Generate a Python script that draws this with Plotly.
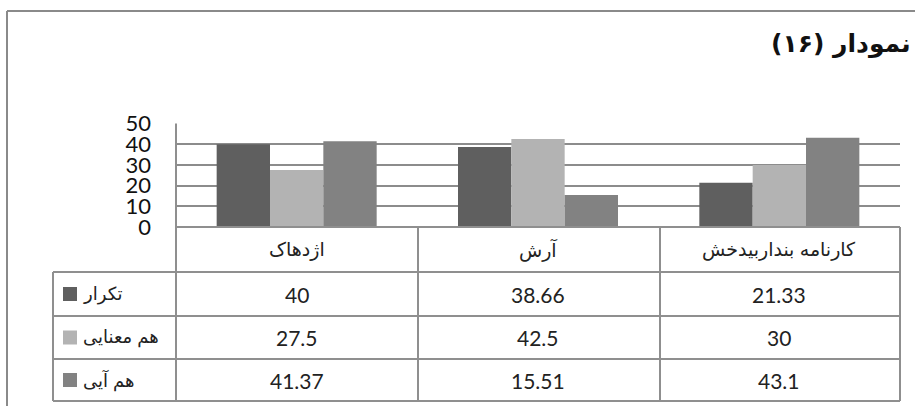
import plotly.graph_objects as go

# ---- data ----
categories = ["اژدهاک", "آرش", "کارنامه بنداربیدخش"]
series_names = ["تکرار", "هم معنایی", "هم آیی"]
takrar = [40, 38.66, 21.33]
ham_manayi = [27.5, 42.5, 30]
ham_ayi = [41.37, 15.51, 43.1]
y_ticks = [0, 10, 20, 30, 40, 50]
title_text = "نمودار (۱۶)"

series_values = [takrar, ham_manayi, ham_ayi]
colors = ["#5f5f5f", "#b3b3b3", "#828282"]

W, H = 915, 406
def px(x):
    return x / W
def py(y):
    return 1 - y / H

PLOT_L, PLOT_R = 176, 900
PLOT_T, PLOT_B = 123.5, 227
ROW_Y = [227, 272, 316, 359, 401]
TABLE_L = 53
COL_X = [176, 418, 660, 900]
LINE = "#8f8f8f"
FA = "Liberation Sans, DejaVu Sans, sans-serif"
NUM = "Lato, Open Sans, sans-serif"

fig = go.Figure()
for name, vals, c in zip(series_names, series_values, colors):
    fig.add_trace(go.Bar(x=categories, y=vals, name=name, marker=dict(color=c, line=dict(width=0)), hoverinfo="skip"))

shapes = []
# outer chart border (left + top)
shapes.append(dict(type="line", xref="paper", yref="paper", x0=px(7), x1=px(7), y0=py(11), y1=py(H + 5), line=dict(color="#8a8a8a", width=2)))
shapes.append(dict(type="line", xref="paper", yref="paper", x0=px(7), x1=px(W + 5), y0=py(11), y1=py(11), line=dict(color="#8a8a8a", width=2)))
# table horizontal lines
for i, y in enumerate(ROW_Y):
    x0 = PLOT_L if i == 0 else TABLE_L
    shapes.append(dict(type="line", xref="paper", yref="paper", x0=px(x0), x1=px(PLOT_R), y0=py(y), y1=py(y), line=dict(color=LINE, width=2)))
# vertical lines
shapes.append(dict(type="line", xref="paper", yref="paper", x0=px(TABLE_L), x1=px(TABLE_L), y0=py(ROW_Y[1]), y1=py(ROW_Y[-1]), line=dict(color=LINE, width=2)))
shapes.append(dict(type="line", xref="paper", yref="paper", x0=px(PLOT_L), x1=px(PLOT_L), y0=py(PLOT_T), y1=py(ROW_Y[-1]), line=dict(color=LINE, width=2)))
for x in COL_X[1:]:
    shapes.append(dict(type="line", xref="paper", yref="paper", x0=px(x), x1=px(x), y0=py(ROW_Y[0]), y1=py(ROW_Y[-1]), line=dict(color=LINE, width=2)))

annotations = []
# title
annotations.append(dict(text="<b>" + title_text + "\u200f</b>", xref="paper", yref="paper", x=px(913), y=py(44), xanchor="right", yanchor="middle", showarrow=False, font=dict(family="DejaVu Sans, sans-serif", size=25, color="#111111")))
# category labels
for cat in categories:
    annotations.append(dict(text=cat, xref="x", yref="paper", x=cat, y=py((ROW_Y[0] + ROW_Y[1]) / 2), xanchor="center", yanchor="middle", showarrow=False, font=dict(family=FA, size=19, color="#222222")))
# rows
for r, (name, vals, c) in enumerate(zip(series_names, series_values, colors)):
    yc = (ROW_Y[r + 1] + ROW_Y[r + 2]) / 2
    shapes.append(dict(type="rect", xref="paper", yref="paper", x0=px(63), x1=px(77), y0=py(yc + 7), y1=py(yc - 7), fillcolor=c, line=dict(width=0)))
    annotations.append(dict(text=name, xref="paper", yref="paper", x=px(81), y=py(yc), xanchor="left", yanchor="middle", showarrow=False, font=dict(family=FA, size=18, color="#222222")))
    for cat, v in zip(categories, vals):
        annotations.append(dict(text=f"{v:g}", xref="x", yref="paper", x=cat, y=py(yc), xanchor="center", yanchor="middle", showarrow=False, font=dict(family=NUM, size=21, color="#222222")))

fig.update_layout(
    width=W, height=H,
    margin=dict(l=0, r=0, t=0, b=0, autoexpand=False),
    paper_bgcolor="white", plot_bgcolor="white",
    barmode="group", bargap=0.337, bargroupgap=0,
    showlegend=False,
    shapes=shapes, annotations=annotations,
    xaxis=dict(domain=[px(PLOT_L), px(PLOT_R)], range=[-0.5, 2.5], showticklabels=False, showgrid=False, zeroline=False, showline=False, ticks="", automargin=False),
    yaxis=dict(domain=[py(PLOT_B), py(PLOT_T)], range=[0, 50], tickvals=y_ticks, ticktext=[str(t) for t in y_ticks],
               showgrid=True, gridcolor="#8c8c8c", gridwidth=2, zeroline=False, showline=False, ticks="", automargin=False,
               ticklabelstandoff=24, tickfont=dict(family=NUM, size=22, color="#111111")),
)

fig.write_html("out.html", config={"displayModeBar": False},
               post_script="document.body.style.margin='0';document.body.style.overflow='hidden';")
